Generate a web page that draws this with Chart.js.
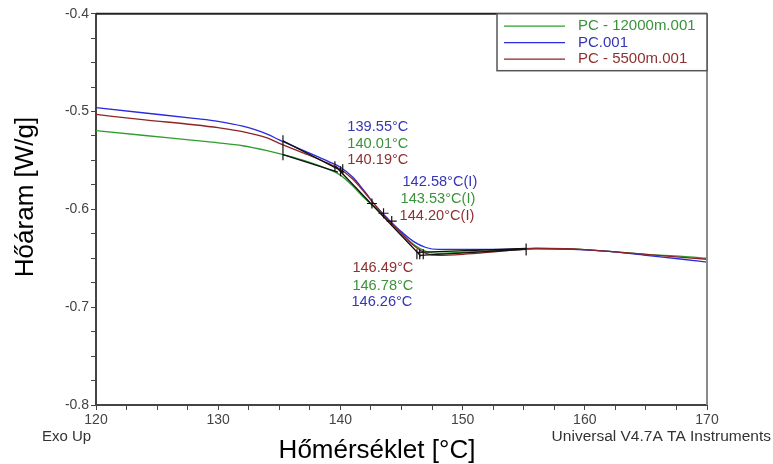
<!DOCTYPE html>
<html>
<head>
<meta charset="utf-8">
<script src="https://cdn.jsdelivr.net/npm/chart.js@4.4.1/dist/chart.umd.min.js"></script>
<style>
html,body{margin:0;padding:0;background:#fff;}
#wrap{width:773px;height:464px;position:relative;}
</style>
</head>
<body>
<div id="wrap"><canvas id="c" width="773" height="464"></canvas></div>
<script>
// ---- data ----
const temps = [120,124,128,130,132,134,135,137,139,140,141,142,143,144,145,146,147,148,150,153,156,159,162,165,168,170];
const pc001 = [-0.496,-0.5015,-0.507,-0.510,-0.515,-0.523,-0.529,-0.540,-0.551,-0.557,-0.567,-0.582,-0.598,-0.611,-0.623,-0.633,-0.639,-0.641,-0.641,-0.641,-0.640,-0.641,-0.643,-0.647,-0.651,-0.654];
const pc5500 = [-0.503,-0.5085,-0.5135,-0.5165,-0.5205,-0.527,-0.5325,-0.5425,-0.553,-0.559,-0.569,-0.583,-0.598,-0.612,-0.625,-0.637,-0.645,-0.647,-0.646,-0.643,-0.640,-0.6405,-0.643,-0.646,-0.649,-0.651];
const pc12000 = [-0.5195,-0.5245,-0.5295,-0.532,-0.535,-0.540,-0.543,-0.550,-0.559,-0.565,-0.576,-0.589,-0.600,-0.612,-0.624,-0.636,-0.643,-0.645,-0.644,-0.642,-0.640,-0.6405,-0.643,-0.646,-0.648,-0.650];
const seriesNames = ['PC - 12000m.001','PC.001','PC - 5500m.001'];

// tangent construction lines (analysis)
const tangentX = [135.3,140.3,null,135.3,139.8,null,139.6,146.6,null,146.3,155.2,null,146.5,155.2];
const tangentY = [-0.530,-0.562,null,-0.544,-0.562,null,-0.556,-0.648,null,-0.644,-0.640,null,-0.647,-0.641];

// analysis markers
const onsetX = [139.55,140.01,140.19];
const onsetY = [-0.556,-0.561,-0.559];
const inflX = [142.58,143.53,144.20];
const inflY = [-0.594,-0.604,-0.612];
const endX = [146.26,146.49,146.78];
const endY = [-0.646,-0.646,-0.646];
const limitX = [135.3,155.2];
const limitY = [-0.537,-0.641];

// annotation labels
const labelTexts = ['139.55°C','140.01°C','140.19°C','142.58°C(I)','143.53°C(I)','144.20°C(I)','146.49°C','146.78°C','146.26°C'];
const labelSeries = [1,0,2,1,0,2,2,0,1];
const labelX = [140.57,140.57,140.57,145.08,144.92,144.84,140.98,140.98,140.90];
const labelY = [-0.5153,-0.5327,-0.5500,-0.5724,-0.5898,-0.6071,-0.6602,-0.6786,-0.6949];

const xTicksMajor = [120,130,140,150,160,170];
const yTicksMajor = [-0.4,-0.5,-0.6,-0.7,-0.8];

// ---- styles ----
const lineColors = ['#2e9e2e','#2a2ae0','#8e2323'];
const textColors = ['#3a923a','#3535b5','#8e3030'];
const FONT = '"Liberation Sans", Arial, sans-serif';

const zip = (xs, ys) => xs.map((x,i)=> x===null ? {x:NaN,y:NaN} : {x:x,y:ys[i]});

const curveData = [pc12000, pc001, pc5500];
const datasets = curveData.map((arr,i)=>({
  label: seriesNames[i],
  data: zip(temps, arr),
  borderColor: lineColors[i],
  borderWidth: 1.3,
  pointRadius: 0,
  showLine: true,
  cubicInterpolationMode: 'monotone',
  order: 3-i
}));
datasets.push({label:'tangent', data: zip(tangentX,tangentY), borderColor:'#111', borderWidth:1.3, pointRadius:0, showLine:true, spanGaps:false, order:0});
datasets.push({label:'onset', data: zip(onsetX,onsetY), showLine:false, pointStyle:'line', rotation:90, pointRadius:5, borderColor:'#111', borderWidth:1.2, order:0});
datasets.push({label:'infl', data: zip(inflX,inflY), showLine:false, pointStyle:'cross', pointRadius:5, borderColor:'#111', borderWidth:1.2, order:0});
datasets.push({label:'end', data: zip(endX,endY), showLine:false, pointStyle:'line', rotation:90, pointRadius:5, borderColor:'#111', borderWidth:1.2, order:0});
datasets.push({label:'limit', data: zip(limitX,limitY), showLine:false, pointStyle:'line', rotation:90, pointRadius:[12.5,6], borderColor:'#111', borderWidth:1.2, order:0});

const overlay = {
  id:'overlay',
  afterDraw(chart){
    const ctx = chart.ctx, a = chart.chartArea, xs = chart.scales.x, ys = chart.scales.y;
    ctx.save();
    // frame top & right
    ctx.lineWidth = 2;
    ctx.strokeStyle = '#222';
    ctx.beginPath(); ctx.moveTo(a.left, a.top); ctx.lineTo(a.right, a.top); ctx.stroke();
    ctx.strokeStyle = '#8a8a8a';
    ctx.beginPath(); ctx.moveTo(a.right, a.top); ctx.lineTo(a.right, a.bottom); ctx.stroke();
    // legend box
    const lx = 497, ly = a.top, lw = a.right-497, lh = 57;
    ctx.fillStyle = '#fff';
    ctx.fillRect(lx, ly, lw, lh);
    ctx.lineWidth = 1.5; ctx.strokeStyle = '#555';
    ctx.strokeRect(lx, ly, lw, lh);
    ctx.font = '15px ' + FONT;
    ctx.textBaseline = 'middle';
    ctx.textAlign = 'left';
    seriesNames.forEach((n,i)=>{
      const yy = ly + 12.5 + i*16.5;
      ctx.strokeStyle = lineColors[i]; ctx.lineWidth = 1.3;
      ctx.beginPath(); ctx.moveTo(504, yy); ctx.lineTo(565, yy); ctx.stroke();
      ctx.fillStyle = textColors[i];
      ctx.fillText(n, 578, yy);
    });
    // annotations
    ctx.font = '14.6px ' + FONT;
    labelTexts.forEach((t,i)=>{
      ctx.fillStyle = textColors[labelSeries[i]];
      ctx.fillText(t, xs.getPixelForValue(labelX[i]), ys.getPixelForValue(labelY[i]));
    });
    // axis titles
    ctx.fillStyle = '#000';
    ctx.font = '26px ' + FONT;
    ctx.textAlign = 'center';
    ctx.textBaseline = 'alphabetic';
    ctx.fillText('Hőmérséklet [°C]', 377, 458);
    ctx.save();
    ctx.translate(33, 197);
    ctx.rotate(-Math.PI/2);
    ctx.fillText('Hőáram [W/g]', 0, 0);
    ctx.restore();
    // footnotes
    ctx.fillStyle = '#333';
    ctx.font = '15px ' + FONT;
    ctx.textAlign = 'left';
    ctx.fillText('Exo Up', 42, 441);
    ctx.font = '15.5px ' + FONT;
    ctx.textAlign = 'right';
    ctx.fillText('Universal V4.7A TA Instruments', 771, 441);
    ctx.restore();
  }
};

const isMajor = (v, list) => list.some(m => Math.abs(m - v) < 1e-6);

new Chart(document.getElementById('c'), {
  type: 'scatter',
  data: { datasets },
  options: {
    responsive: false,
    animation: false,
    devicePixelRatio: 1,
    layout: { padding: { left: 0, top: 13, right: 66, bottom: 0 } },
    plugins: { legend: { display: false }, tooltip: { enabled: false } },
    scales: {
      x: {
        type: 'linear', min: 120, max: 170,
        afterFit(s){ s.height = 59; },
        afterBuildTicks(s){ const t=[]; for(let v=120; v<=170.001; v+=2.5) t.push({value: Math.round(v*10)/10}); s.ticks = t; },
        ticks: {
          autoSkip: false, maxRotation: 0, padding: 2, color: '#444',
          font: { family: FONT, size: 14 },
          callback: v => isMajor(v, xTicksMajor) ? String(v) : ''
        },
        grid: { drawOnChartArea: false, drawTicks: true, tickLength: 5, color: '#444', lineWidth: 1 },
        border: { display: true, color: '#444', width: 2 }
      },
      y: {
        type: 'linear', min: -0.8, max: -0.4,
        afterFit(s){ s.width = 96; },
        afterBuildTicks(s){ const t=[]; for(let i=0;i<=16;i++) t.push({value: Math.round((-0.8 + i*0.025)*1000)/1000}); s.ticks = t; },
        ticks: {
          autoSkip: false, padding: 2, color: '#444',
          font: { family: FONT, size: 14 },
          callback: v => isMajor(v, yTicksMajor) ? v.toFixed(1) : ''
        },
        grid: { drawOnChartArea: false, drawTicks: true, tickLength: 5, color: '#444', lineWidth: 1 },
        border: { display: true, color: '#444', width: 2 }
      }
    }
  },
  plugins: [overlay]
});
</script>
</body>
</html>
